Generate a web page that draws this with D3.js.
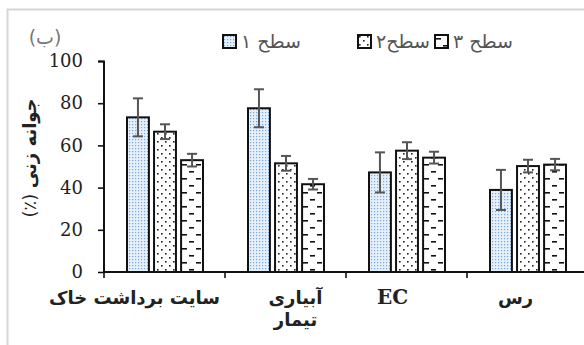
<!DOCTYPE html>
<html>
<head>
<meta charset="utf-8">
<script src="https://cdn.jsdelivr.net/npm/d3@7"></script>
<style>
  html, body { margin: 0; padding: 0; background: #fff; }
  svg { display: block; }
</style>
</head>
<body>
<svg id="chart" width="584" height="345"></svg>
<script>
// Germination percentage for three levels across four treatments
const categories = ["سایت برداشت خاک", "آبیاری\nتیمار", "EC", "رس"];
const seriesNames = ["سطح ۱", "سطح۲", "سطح ۳"];
const level1 = [73.3, 77.6, 47.2, 38.9];
const level2 = [66.5, 51.5, 57.5, 50.2];
const level3 = [53.0, 41.6, 54.2, 50.9];
const err1 = [9.0, 9.0, 9.5, 9.5];
const err2 = [3.5, 3.5, 4.0, 3.0];
const err3 = [3.0, 2.5, 2.8, 2.7];
const yTicks = [0, 20, 40, 60, 80, 100];

const values = [level1, level2, level3];
const errors = [err1, err2, err3];

const serif = "DejaVu Serif, Liberation Serif, serif";
const arabic = "DejaVu Sans, sans-serif";

const svg = d3.select("#chart");

// light frame of the chart area
svg.append("rect")
  .attr("x", 7.5).attr("y", 9.5)
  .attr("width", 620).attr("height", 400)
  .attr("fill", "#fff")
  .attr("stroke", "#d6d6d6")
  .attr("stroke-width", 2);

// fill patterns for the three levels
const defs = svg.append("defs");

const p1 = defs.append("pattern").attr("id", "pat1")
  .attr("patternUnits", "userSpaceOnUse").attr("width", 3).attr("height", 3);
p1.append("rect").attr("width", 3).attr("height", 3).attr("fill", "#e6f0fb");
p1.append("rect").attr("x", 1).attr("y", 1).attr("width", 1.2).attr("height", 1.2).attr("fill", "#7aa7da");

const p2 = defs.append("pattern").attr("id", "pat2")
  .attr("patternUnits", "userSpaceOnUse").attr("width", 8).attr("height", 8);
p2.append("rect").attr("width", 8).attr("height", 8).attr("fill", "#fff");
p2.append("rect").attr("x", 1).attr("y", 1).attr("width", 1.6).attr("height", 1.6).attr("fill", "#222");
p2.append("rect").attr("x", 5).attr("y", 5).attr("width", 1.6).attr("height", 1.6).attr("fill", "#222");

const p3 = defs.append("pattern").attr("id", "pat3")
  .attr("patternUnits", "userSpaceOnUse").attr("width", 14).attr("height", 14);
p3.append("rect").attr("width", 14).attr("height", 14).attr("fill", "#fff");
p3.append("rect").attr("x", 1).attr("y", 3).attr("width", 5).attr("height", 1.6).attr("fill", "#111");
p3.append("rect").attr("x", 8).attr("y", 10).attr("width", 5).attr("height", 1.6).attr("fill", "#111");

const fills = ["url(#pat1)", "url(#pat2)", "url(#pat3)"];

// scales
const x = d3.scaleBand().domain(categories).range([104, 588]).padding(0);
const xInner = d3.scaleBand().domain(d3.range(3)).range([23, 99]).paddingInner(0.19);
const y = d3.scaleLinear().domain([0, 100]).range([272, 61]);

// bars
const groups = svg.append("g").selectAll("g")
  .data(categories)
  .join("g")
  .attr("transform", d => `translate(${x(d)},0)`);

groups.each(function(cat, ci) {
  const g = d3.select(this);
  d3.range(3).forEach(si => {
    const v = values[si][ci];
    g.append("rect")
      .attr("x", xInner(si))
      .attr("y", y(v))
      .attr("width", xInner.bandwidth())
      .attr("height", y(0) - y(v))
      .attr("fill", fills[si])
      .attr("stroke", "#111")
      .attr("stroke-width", 2);
  });
  d3.range(3).forEach(si => {
    const v = values[si][ci], e = errors[si][ci];
    const cx = xInner(si) + xInner.bandwidth() / 2;
    const eg = g.append("g").attr("stroke", "#555").attr("stroke-width", 2);
    eg.append("line").attr("x1", cx).attr("x2", cx).attr("y1", y(v + e)).attr("y2", y(v - e));
    eg.append("line").attr("x1", cx - 5).attr("x2", cx + 5).attr("y1", y(v + e)).attr("y2", y(v + e));
    eg.append("line").attr("x1", cx - 5).attr("x2", cx + 5).attr("y1", y(v - e)).attr("y2", y(v - e));
  });
});

// y axis
const yAxis = svg.append("g")
  .attr("transform", "translate(104,0)")
  .call(d3.axisLeft(y).tickValues(yTicks).tickSize(6).tickPadding(15).tickFormat(d3.format("d")));
yAxis.attr("font-family", serif).attr("font-size", 18);
yAxis.select(".domain").attr("stroke", "#111").attr("stroke-width", 2).attr("d", "M-6,61.5H0V272");
yAxis.selectAll(".tick line").attr("stroke", "#111").attr("stroke-width", 1.6);
yAxis.selectAll(".tick text").style("font-family", serif).attr("fill", "#222");

// x axis with ticks at category boundaries
const xAxis = svg.append("g").attr("transform", "translate(0,272)");
xAxis.append("line").attr("x1", 104).attr("x2", 584).attr("stroke", "#111").attr("stroke-width", 2);
xAxis.selectAll("line.bound")
  .data(categories)
  .join("line")
  .attr("class", "bound")
  .attr("x1", d => x(d)).attr("x2", d => x(d))
  .attr("y1", 0).attr("y2", 6)
  .attr("stroke", "#111").attr("stroke-width", 1.6);

// category labels, nudged as they sit under their groups
const labelNudge = [-30, 10, -14, -12];
xAxis.selectAll("text.cat")
  .data(categories)
  .join("text")
  .attr("class", "cat")
  .attr("text-anchor", "middle")
  .style("font-family", (d, i) => i === 2 ? serif : arabic)
  .attr("font-weight", "bold")
  .attr("font-size", (d, i) => i === 2 ? 20 : 18)
  .attr("fill", "#222")
  .each(function(d, i) {
    const t = d3.select(this);
    d.split("\n").forEach((line, k) => {
      t.append("tspan")
        .attr("x", x(d) + x.bandwidth() / 2 + labelNudge[i])
        .attr("y", 32 + k * 22)
        .text(line);
    });
  });

// y axis title
svg.append("text")
  .attr("transform", "translate(36,158) rotate(-90)")
  .attr("text-anchor", "middle")
  .style("font-family", arabic)
  .attr("font-size", 18)
  .attr("fill", "#222")
  .call(t => {
    t.append("tspan").text("(٪) ");
    t.append("tspan").attr("font-weight", "bold").text("جوانه زنی");
  });

// panel label
svg.append("text")
  .attr("x", 45).attr("y", 44)
  .attr("text-anchor", "middle")
  .style("font-family", arabic)
  .attr("font-size", 19)
  .attr("fill", "#777")
  .text("(ب)");

// legend
const legendX = [223, 358, 435];
const legend = svg.append("g");
seriesNames.forEach((name, i) => {
  const lg = legend.append("g").attr("transform", `translate(${legendX[i]},35)`);
  lg.append("rect").attr("width", 13).attr("height", 13)
    .attr("fill", fills[i]).attr("stroke", "#111").attr("stroke-width", 2);
  lg.append("text").attr("x", 18).attr("y", 13)
    .style("font-family", arabic)
    .attr("font-size", 19).attr("fill", "#555")
    .text(name);
});
</script>
</body>
</html>
